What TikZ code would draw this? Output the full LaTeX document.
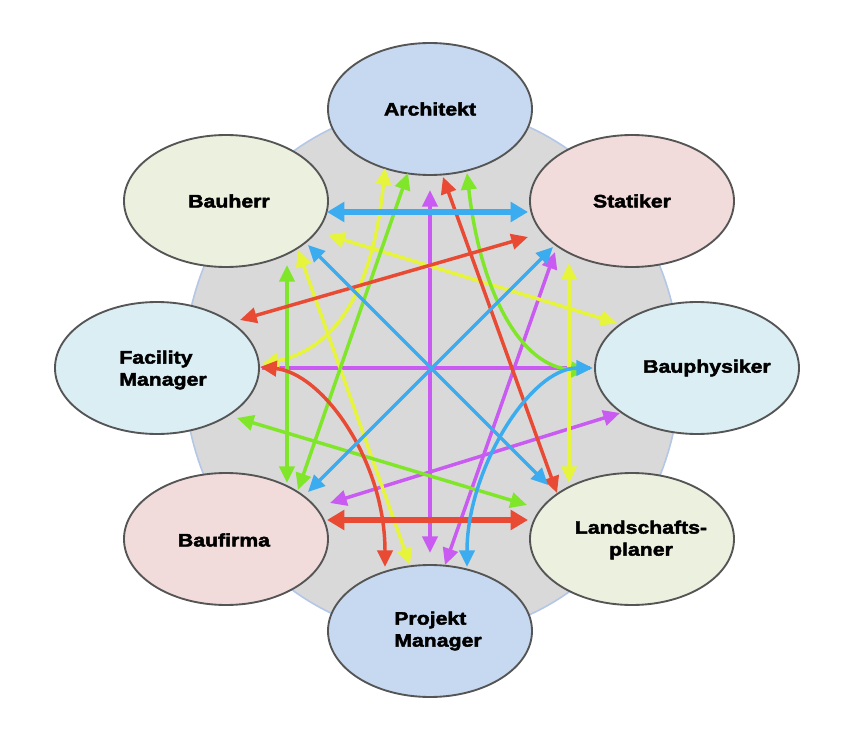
\documentclass[tikz,border=0pt]{standalone}
\usepackage{fontspec}
\newfontfamily\labfont[FakeStretch=1.18,FakeBold=2.5]{Liberation Sans Bold}
\usetikzlibrary{arrows.meta,calc,shapes.geometric}
\definecolor{cb}{HTML}{3CACF0}
\definecolor{cr}{HTML}{E84A33}
\definecolor{cg}{HTML}{80E62A}
\definecolor{cy}{HTML}{E6F53C}
\definecolor{cp}{HTML}{C95AF2}
\definecolor{fblue}{HTML}{C6D9F0}
\definecolor{folive}{HTML}{EBF1DE}
\definecolor{fred}{HTML}{F2DCDB}
\definecolor{faqua}{HTML}{DBEEF4}
\definecolor{bgfill}{HTML}{D9D9D9}
\definecolor{bgline}{HTML}{B4C7E7}
\definecolor{nodeline}{HTML}{555555}
\begin{document}
\begin{tikzpicture}[x=0.75pt,y=-0.75pt,
  ent/.style={ellipse, draw=nodeline, line width=1.4pt, minimum width=153pt, minimum height=99pt, inner sep=0pt},
  lab/.style={font=\labfont\fontsize{13.5pt}{16.5pt}\selectfont, inner sep=0pt, text=black},
  conn/.style={line width=2.6pt, {Triangle[length=12.5pt,width=11.5pt]}-{Triangle[length=12.5pt,width=11.5pt]}},
  bigconn/.style={line width=3.9pt, {Triangle[length=13pt,width=14.5pt]}-{Triangle[length=13pt,width=14.5pt]}},
  plainconn/.style={line width=2.6pt}
]
\useasboundingbox (0,0) rectangle (851,742);
\fill[white] (0,0) rectangle (851,742);
% background
\path[fill=bgfill, draw=bgline, line width=1.2pt] (432,371) ellipse [x radius=186pt, y radius=198.75pt];

% entities
\node[ent, fill=fblue]  (A)  at (430,109) {};
\node[ent, fill=fred]   (S)  at (632,201) {};
\node[ent, fill=faqua]  (Bp) at (697,368) {};
\node[ent, fill=folive] (L)  at (632,539) {};
\node[ent, fill=fblue]  (PM) at (430,631) {};
\node[ent, fill=fred]   (Bf) at (226,539) {};
\node[ent, fill=faqua]  (FM) at (157,368) {};
\node[ent, fill=folive] (Bh) at (226,201) {};

% labels
\node[lab] (At)  at ($(A)+(0,0)$) {Architekt};
\node[lab] (St)  at ($(S)+(0,0)$) {Statiker};
\node[lab] (Bpt) at ($(Bp)+(10,0)$) {Bauphysiker};
\node[lab, align=center] (Lt) at ($(L)+(9,1)$) {Landschafts-\\planer};
\node[lab, align=left] (PMt) at ($(PM)+(8,0)$) {Projekt\\Manager};
\node[lab] (Bft) at ($(Bf)+(-2,1)$) {Baufirma};
\node[lab, align=left] (FMt) at ($(FM)+(6,2)$) {Facility\\Manager};
\node[lab] (Bht) at ($(Bh)+(3,0)$) {Bauherr};

% purple
\draw[plainconn, cp] ($(FM)+(105,0)$) -- ($(Bp)+(-107,0)$);
\draw[conn, cp] ($(A)+(0,81)$) -- ($(PM)+(0,-78)$);
\draw[conn, cp] ($(S)+(-77,51)$) -- ($(PM)+(15,-66)$);
\draw[conn, cp] ($(Bf)+(104,-36)$) -- ($(Bp)+(-77,45)$);

% yellow
\draw[conn, cy] ($(Bh)+(102,34)$) -- ($(Bp)+(-80,-45)$);
\draw[conn, cy] ($(A)+(-45,59)$) .. controls +(-13,132) and +(68,-14) .. ($(FM)+(105,-4)$);
\draw[conn, cy] ($(Bh)+(72,49)$) -- ($(PM)+(-20,-66)$);
\draw[conn, cy] ($(S)+(-63,62)$) -- ($(L)+(-63,-56)$);

% green
\draw[conn, cg] ($(Bh)+(61,64)$) -- ($(Bf)+(61,-56)$);
\draw[conn, cg] ($(A)+(-22,64)$) -- ($(Bf)+(72,-49)$);
\draw[conn, cg] ($(A)+(37,64)$) .. controls +(13,117) and +(-68,-2) .. ($(Bp)+(-109,2)$);
\draw[conn, cg] ($(FM)+(80,50)$) -- ($(L)+(-105,-34)$);

% red
\draw[conn, cr] ($(FM)+(83,-48)$) -- ($(S)+(-104,36)$);
\draw[conn, cr] ($(FM)+(103,-1)$) .. controls +(62,6) and +(0,-107) .. ($(PM)+(-45,-64)$);
\draw[conn, cr] ($(A)+(13,68)$) -- ($(L)+(-75,-46)$);
\draw[bigconn, cr] ($(Bf)+(101,-19)$) -- ($(L)+(-104,-19)$);

% blue
\draw[bigconn, cb] ($(Bh)+(101,11)$) -- ($(S)+(-104,11)$);
\draw[conn, cb] ($(Bh)+(82,44)$) -- ($(L)+(-84,-54)$);
\draw[conn, cb] ($(S)+(-79,46)$) -- ($(Bf)+(82,-47)$);
\draw[conn, cb] ($(PM)+(37,-64)$) .. controls +(0,-97) and +(-63,0) .. ($(Bp)+(-104,0)$);
\end{tikzpicture}
\end{document}
